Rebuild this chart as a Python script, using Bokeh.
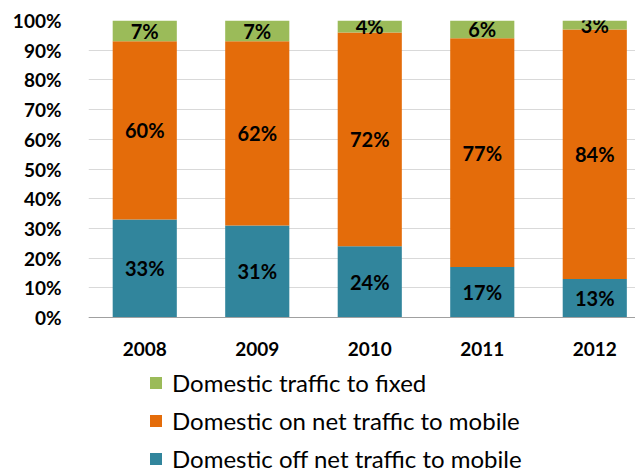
from bokeh.plotting import figure
from bokeh.models import Range1d, FixedTicker, PrintfTickFormatter, Legend, LegendItem, ColumnDataSource
from bokeh.core.properties import value
from bokeh.embed import file_html
from bokeh.resources import INLINE

years = ["2008", "2009", "2010", "2011", "2012"]
off_net = [33, 31, 24, 17, 13]
on_net = [60, 62, 72, 77, 84]
fixed = [7, 7, 4, 6, 3]

series_names = ["Domestic off net traffic to mobile", "Domestic on net traffic to mobile", "Domestic traffic to fixed"]
colors = ["#31859C", "#E46C0A", "#9BBB59"]
y_ticks = [0, 10, 20, 30, 40, 50, 60, 70, 80, 90, 100]

FONT = "Lato"
xs = list(range(len(years)))

p = figure(width=635, height=474, output_backend="svg", toolbar_location=None,
           x_range=Range1d(-0.5, 4.362), y_range=Range1d(-52.86, 100),
           min_border_left=88, min_border_top=20, min_border_right=0, min_border_bottom=0)
p.outline_line_color = None
p.xgrid.grid_line_color = None
p.ygrid.grid_line_color = "#D9D9D9"
p.ygrid.grid_line_width = 1

src = ColumnDataSource(dict(x=xs, off=off_net, on=on_net, fx=fixed))
renderers = p.vbar_stack(["off", "on", "fx"], x="x", width=0.57, source=src,
                         color=colors, line_color=None)

# data labels
all_series = [off_net, on_net, fixed]
lx, ly, lt = [], [], []
for i in range(len(years)):
    base = 0
    for s in all_series:
        v = s[i]
        lx.append(i)
        ly.append(base + v / 2)
        lt.append(f"{v}%")
        base += v
p.text(x=lx, y=ly, text=lt, text_font=value(FONT), text_font_style="bold",
       text_font_size="20px", text_align="center", text_baseline="middle", text_color="black")

# axes
p.yaxis.ticker = FixedTicker(ticks=y_ticks)
p.yaxis.formatter = PrintfTickFormatter(format="%d%%")
p.yaxis.axis_line_color = None
p.yaxis.major_tick_line_color = None
p.yaxis.minor_tick_line_color = None
p.yaxis.major_label_standoff = 21
p.yaxis.major_label_text_font = FONT
p.yaxis.major_label_text_font_style = "bold"
p.yaxis.major_label_text_font_size = "19px"
p.yaxis.major_label_text_color = "black"

p.xaxis.fixed_location = 0
p.xaxis.ticker = FixedTicker(ticks=xs)
p.xaxis.major_label_overrides = {i: y for i, y in enumerate(years)}
p.xaxis.axis_line_color = "#A0A0A0"
p.xaxis.major_tick_line_color = None
p.xaxis.minor_tick_line_color = None
p.xaxis.major_label_standoff = 18
p.xaxis.major_label_text_font = FONT
p.xaxis.major_label_text_font_style = "bold"
p.xaxis.major_label_text_font_size = "19px"
p.xaxis.major_label_text_color = "black"

items = [LegendItem(label=series_names[k], renderers=[renderers[k]]) for k in [2, 1, 0]]
legend = Legend(items=items, location=(60, 1), orientation="vertical",
                padding=0, margin=0, spacing=9, glyph_width=15, glyph_height=15,
                label_height=26, label_standoff=9, label_text_font=FONT,
                label_text_font_size="24px", label_text_color="black",
                border_line_color=None, background_fill_alpha=0)
p.add_layout(legend, "center")

open("out.html", "w").write(file_html(p, INLINE))
